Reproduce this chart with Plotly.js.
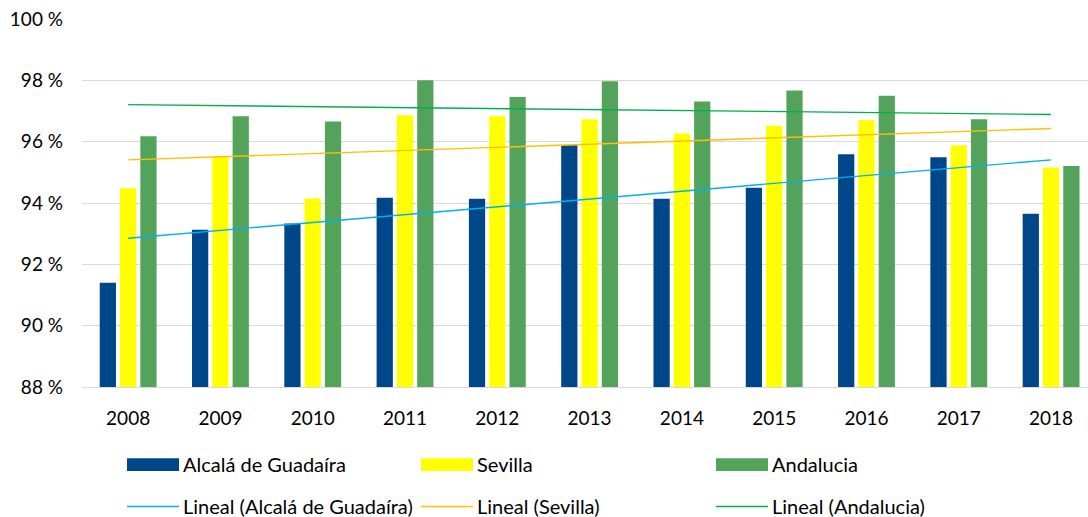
<!DOCTYPE html>
<html>
<head>
<meta charset="utf-8">
<script src="https://cdn.plot.ly/plotly-3.0.1.min.js"></script>
<style>html,body{margin:0;padding:0;background:#fff;}#chart{width:1088px;height:517px;}</style>
</head>
<body>
<div id="chart"></div>
<script>
// ---- data ----
const years = ["2008","2009","2010","2011","2012","2013","2014","2015","2016","2017","2018"];
const alcala = [91.40, 93.13, 93.33, 94.17, 94.14, 95.88, 94.14, 94.50, 95.59, 95.49, 93.65];
const sevilla = [94.48, 95.52, 94.15, 96.86, 96.83, 96.73, 96.27, 96.52, 96.70, 95.88, 95.16];
const andalucia = [96.18, 96.83, 96.66, 98.00, 97.46, 97.97, 97.31, 97.67, 97.50, 96.73, 95.21];
const seriesNames = ["Alcalá de Guadaíra", "Sevilla", "Andalucia"];
const trendNames = ["Lineal (Alcalá de Guadaíra)", "Lineal (Sevilla)", "Lineal (Andalucia)"];
const yTickVals = [88, 90, 92, 94, 96, 98, 100];
const yTickText = ["88 %", "90 %", "92 %", "94 %", "96 %", "98 %", "100 %"];

// ---- styles ----
const barColors = ["#00478A", "#FFFF00", "#53A35B"];
const trendColors = ["#00B0F0", "#FFC000", "#00B050"];
const FONT = "Lato, 'Liberation Sans', sans-serif";

// least-squares linear trend (as the spreadsheet "Lineal" trendline)
function linearTrend(vals) {
  const n = vals.length;
  let sx = 0, sy = 0, sxx = 0, sxy = 0;
  for (let i = 0; i < n; i++) { sx += i; sy += vals[i]; sxx += i * i; sxy += i * vals[i]; }
  const b = (n * sxy - sx * sy) / (n * sxx - sx * sx);
  const a = (sy - b * sx) / n;
  return vals.map((_, i) => a + b * i);
}

const allSeries = [alcala, sevilla, andalucia];
const traces = [];
allSeries.forEach((vals, k) => {
  traces.push({
    type: "bar", x: years, y: vals, name: seriesNames[k],
    marker: { color: barColors[k], line: { width: 0 } },
    hoverinfo: "x+y+name"
  });
});
allSeries.forEach((vals, k) => {
  traces.push({
    type: "scatter", mode: "lines", x: years, y: linearTrend(vals), name: trendNames[k],
    line: { color: trendColors[k], width: 1.4 }
  });
});

// layout geometry
const W = 1088, H = 517;
const M = { l: 82, r: 0, t: 19, b: 130 };
const pw = W - M.l - M.r, ph = H - M.t - M.b;
const px = x => (x - M.l) / pw;
const py = y => (H - M.b - y) / ph;

// custom legend (wide swatches like the original)
const legCols = [127, 421, 716];
const swW = 52;
const row1 = 464.7, row2 = 506.5;
const shapes = [], annotations = [];
for (let k = 0; k < 3; k++) {
  const x0 = legCols[k];
  shapes.push({ type: "rect", xref: "paper", yref: "paper",
    x0: px(x0), x1: px(x0 + swW), y0: py(row1 - 6.4), y1: py(row1 + 6.4),
    fillcolor: barColors[k], line: { width: 0 } });
  shapes.push({ type: "line", xref: "paper", yref: "paper",
    x0: px(x0), x1: px(x0 + swW), y0: py(row2), y1: py(row2),
    line: { color: trendColors[k], width: 1.4 } });
  annotations.push({ xref: "paper", yref: "paper", x: px(x0 + swW + 2), y: py(row1 - 0.5),
    xanchor: "left", yanchor: "middle", showarrow: false, text: seriesNames[k],
    font: { family: FONT, size: 20, color: "#000" } });
  annotations.push({ xref: "paper", yref: "paper", x: px(x0 + swW + 2), y: py(row2 - 0.5),
    xanchor: "left", yanchor: "middle", showarrow: false, text: trendNames[k],
    font: { family: FONT, size: 20, color: "#000" } });
}

const layout = {
  width: W, height: H,
  margin: M,
  paper_bgcolor: "#fff", plot_bgcolor: "#fff",
  showlegend: false,
  barmode: "group", bargap: 0.34, bargroupgap: 0.2,
  font: { family: FONT, size: 19, color: "#000" },
  xaxis: {
    type: "category", range: [-0.5, 10.4],
    showgrid: false, showline: true, linecolor: "#D9D9D9", linewidth: 1.3,
    ticks: "", ticklabelstandoff: 14,
    tickfont: { family: FONT, size: 19, color: "#000" },
    fixedrange: true
  },
  yaxis: {
    range: [88, 100], tickvals: yTickVals, ticktext: yTickText,
    showgrid: true, gridcolor: "#D9D9D9", gridwidth: 1.3,
    zeroline: false, showline: false, ticks: "", ticklabelstandoff: 18,
    tickfont: { family: FONT, size: 19, color: "#000" },
    fixedrange: true
  },
  shapes: shapes,
  annotations: annotations
};

Plotly.newPlot("chart", traces, layout, { displayModeBar: false, staticPlot: false });
</script>
</body>
</html>
